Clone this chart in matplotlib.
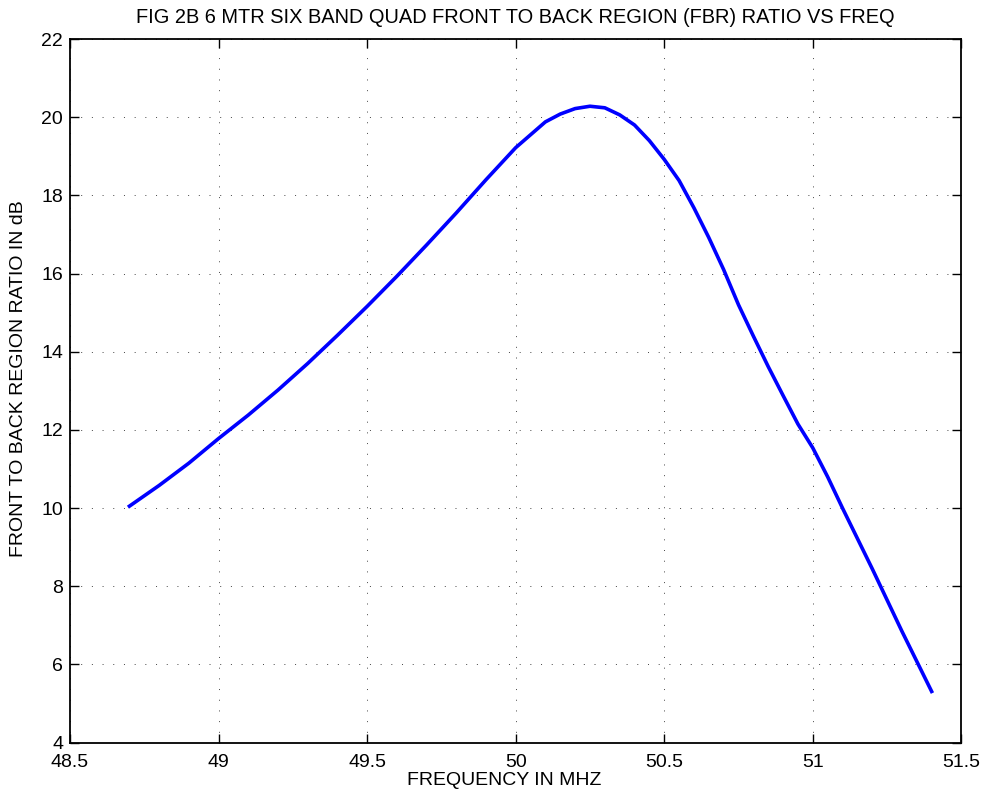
import numpy as np
import matplotlib
matplotlib.use("Agg")
import matplotlib.pyplot as plt

plt.rcParams['font.family'] = ['Liberation Sans', 'DejaVu Sans']

freq = [48.7, 48.8, 48.9, 49.0, 49.1, 49.2, 49.3, 49.4, 49.5, 49.6, 49.7,
        49.8, 49.9, 50.0, 50.05, 50.1, 50.15, 50.2, 50.25, 50.3, 50.35,
        50.4, 50.45, 50.5, 50.55, 50.6, 50.65, 50.7, 50.75, 50.8, 50.85,
        50.9, 50.95, 51.0, 51.05, 51.1, 51.2, 51.3, 51.4]
fbr = [10.05, 10.58, 11.15, 11.78, 12.38, 13.02, 13.70, 14.42, 15.16, 15.93, 16.73,
       17.55, 18.40, 19.22, 19.55, 19.88, 20.08, 20.22, 20.28, 20.24, 20.06,
       19.80, 19.40, 18.92, 18.38, 17.68, 16.92, 16.10, 15.20, 14.40, 13.62,
       12.88, 12.15, 11.54, 10.80, 10.00, 8.45, 6.85, 5.31]

fig = plt.figure(figsize=(9.86, 7.96), dpi=100)
ax = fig.add_axes([0.071, 0.067, 0.904, 0.884])

ax.plot(freq, fbr, color='#0000ff', linewidth=2.6)

ax.set_xlim(48.5, 51.5)
ax.set_ylim(4, 22)
ax.set_xticks([48.5, 49, 49.5, 50, 50.5, 51, 51.5])
ax.set_xticklabels(['48.5', '49', '49.5', '50', '50.5', '51', '51.5'])
ax.set_yticks(range(4, 23, 2))

ax.grid(True, color='#444444', linestyle=(0, (1, 10)), linewidth=0.7)
ax.tick_params(direction='in', top=True, right=True, length=6.5, width=1,
               labelsize=14)
ax.tick_params(axis='x', pad=8)
ax.tick_params(axis='y', pad=5)
for s in ax.spines.values():
    s.set_linewidth(1.3)

ax.set_title("FIG 2B 6 MTR SIX BAND QUAD FRONT TO BACK REGION (FBR) RATIO VS FREQ",
             fontsize=14.4, pad=11.5)
ax.set_xlabel("FREQUENCY IN MHZ", fontsize=14)
ax.xaxis.set_label_coords(0.487, -0.041)
ax.set_ylabel("FRONT TO BACK REGION RATIO IN dB", fontsize=14)
ax.yaxis.set_label_coords(-0.048, 0.518)

fig.savefig("out.png", dpi=100)
